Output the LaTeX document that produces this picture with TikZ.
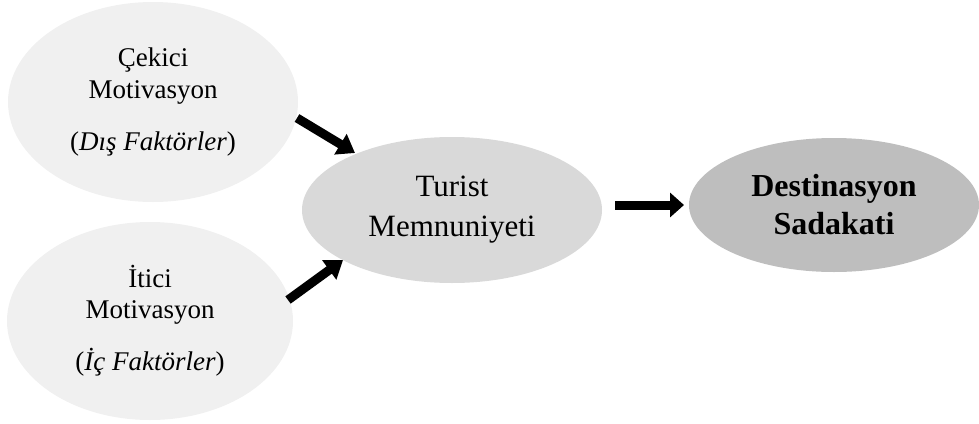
\documentclass[tikz,border=0pt]{standalone}
\usepackage{fontspec}
\setmainfont{Liberation Serif}
\usetikzlibrary{shapes.geometric,arrows.meta}
\definecolor{lightfill}{RGB}{240,240,240}
\definecolor{midfill}{RGB}{217,217,217}
\definecolor{darkfill}{RGB}{190,190,190}
\tikzset{
  bubble/.style={ellipse,inner sep=0pt,draw=none,align=center},
  blockarrow/.style={line width=9pt,black,-{Triangle[width=23pt,length=17pt]}},
}
\begin{document}
\begin{tikzpicture}[x=1pt,y=-1pt]
\useasboundingbox (0,0) rectangle (979,423);
\node[bubble,fill=lightfill,minimum width=290pt,minimum height=200pt,
  font=\fontsize{27}{32}\selectfont] (A) at (153,102)
  {Çekici\\Motivasyon\\[20pt](\textit{Dış Faktörler})};
\node[bubble,fill=lightfill,minimum width=286pt,minimum height=198pt,
  font=\fontsize{27}{31}\selectfont] (B) at (150,321)
  {İtici\\Motivasyon\\[21pt](\textit{İç Faktörler})};
\node[bubble,fill=midfill,minimum width=300pt,minimum height=146pt,
  font=\fontsize{31}{40}\selectfont] (C) at (452,210)
  {Turist\\Memnuniyeti};
\node[bubble,fill=darkfill,minimum width=290pt,minimum height=134pt,
  font=\fontsize{32}{38}\selectfont\bfseries] (D) at (834,205)
  {Destinasyon\\Sadakati};
\coordinate (a1) at (297,118);
\coordinate (a1t) at (355,153);
\coordinate (a2) at (288,300);
\coordinate (a2t) at (343,260);
\coordinate (a3) at (615,205);
\coordinate (a3t) at (684,205);
\draw[blockarrow] (a1) -- (a1t);
\draw[blockarrow] (a2) -- (a2t);
\draw[blockarrow,-{Triangle[width=24pt,length=14pt]}] (a3) -- (a3t);
\end{tikzpicture}
\end{document}
